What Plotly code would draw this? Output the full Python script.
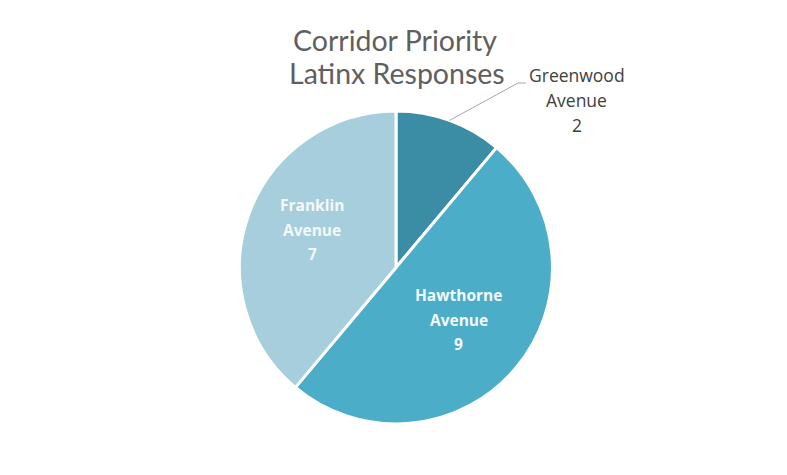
import math
import plotly.graph_objects as go

# Survey counts per corridor (clockwise from 12 o'clock)
corridors = ["Greenwood Avenue", "Hawthorne Avenue", "Franklin Avenue"]
counts = [2, 9, 7]
colors = ["#3a8da5", "#4badc8", "#a6cedc"]

W, H = 787, 475
CX, CY, R = 396, 267.5, 156.5  # pie centre / radius in pixels


def px(x):
    return x / W


def py(y):
    return 1 - y / H


fig = go.Figure(
    go.Pie(
        labels=corridors,
        values=counts,
        sort=False,
        direction="clockwise",
        rotation=0,
        marker=dict(colors=colors, line=dict(color="white", width=3)),
        textinfo="none",
        hoverinfo="label+value",
        domain=dict(x=[px(CX - R), px(CX + R)], y=[py(CY + R), py(CY - R)]),
        showlegend=False,
    )
)

# mid-angle of each slice (degrees clockwise from 12 o'clock)
total = sum(counts)
mids = []
acc = 0
for v in counts:
    mids.append((acc + v / 2) / total * 360)
    acc += v


def polar(angle, r):
    a = math.radians(angle)
    return CX + r * math.sin(a), CY - r * math.cos(a)


annotations = []
shapes = []

# inside labels for the two large slices
label_pos = {1: (0.50, 2), 2: (0.59, -6)}
for i, (frac, dy) in label_pos.items():
    x, y = polar(mids[i], R * frac)
    y += dy
    words = corridors[i].split(" ")
    lines = [words[0], words[1], str(counts[i])]
    for k, line in enumerate(lines):
        annotations.append(dict(
            x=px(x + 3), y=py(y + (k - 1) * 24.5), xref="paper", yref="paper",
            text="<b>" + line + "</b>", showarrow=False,
            font=dict(family="Open Sans", size=15.5, color="#f4fafc"),
            xanchor="center", yanchor="middle",
        ))

# outside label with leader line for the small slice
ex, ey = polar(mids[0], R)
bend_x, bend_y = 518, 83
shapes.append(dict(
    type="path", xref="paper", yref="paper",
    path=f"M {px(ex)} {py(ey)} L {px(bend_x)} {py(bend_y)} L {px(bend_x + 8)} {py(bend_y)}",
    line=dict(color="#a6a6a6", width=1),
))
words = corridors[0].split(" ")
for k, line in enumerate([words[0], words[1], str(counts[0])]):
    annotations.append(dict(
        x=px(576.5), y=py(75 + k * 25), xref="paper", yref="paper",
        text=line, showarrow=False,
        font=dict(family="Open Sans", size=17.5, color="#404040"),
        xanchor="center", yanchor="middle",
    ))

# two-line title
for text, tx, ty in [("Corridor Priority", 395, 40), ("Latinx Responses", 397, 73)]:
    annotations.append(dict(
        x=px(tx), y=py(ty), xref="paper", yref="paper",
        text=text, showarrow=False,
        font=dict(family="Lato", size=28.5, color="#5f5f5f"),
        xanchor="center", yanchor="middle",
    ))

fig.update_layout(
    width=W, height=H,
    margin=dict(l=0, r=0, t=0, b=0),
    paper_bgcolor="white", plot_bgcolor="white",
    annotations=annotations, shapes=shapes,
)

fig.write_html("out.html")
